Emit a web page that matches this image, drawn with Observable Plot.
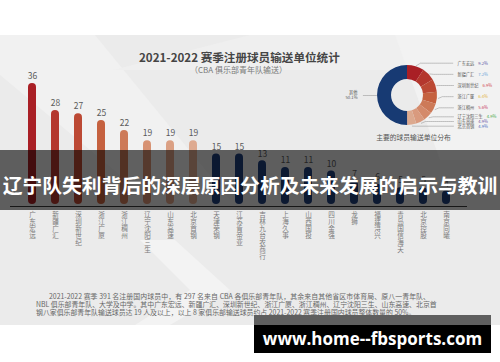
<!DOCTYPE html>
<html><head><meta charset="utf-8">
<script src="https://cdn.jsdelivr.net/npm/d3@7"></script>
<script src="https://cdn.jsdelivr.net/npm/@observablehq/plot@0.6"></script>
<style>
html,body{margin:0;padding:0;background:#fff;}
#root{position:relative;width:500px;height:362px;overflow:hidden;font-family:"Noto Sans CJK SC","Noto Sans",sans-serif;}
#panel{position:absolute;left:0;top:35px;width:500px;height:290px;background:#ebebeb;}
#deco{position:absolute;left:0;top:0;}
.abs{position:absolute;white-space:nowrap;}
#title{left:139px;top:49px;font-size:11.6px;font-weight:700;color:#454545;line-height:16px;}
#subtitle{left:190px;top:64px;font-size:8px;color:#7a7a7a;line-height:11px;}
#bars,#donut{position:absolute;left:0;top:0;}
#banner{position:absolute;left:0;top:150px;width:500px;height:60px;background:rgba(0,0,0,0.6);color:#fff;font-size:19.8px;font-weight:700;text-align:center;line-height:50px;padding-top:10px;box-sizing:border-box;white-space:nowrap;}
#footer{position:absolute;left:36px;top:292px;width:394px;font-size:6.9px;color:#666;line-height:8px;}
#footer div{white-space:nowrap;text-align:justify;text-align-last:justify;}
#footer div.last{text-align-last:left;}
#wm1{position:absolute;left:254px;top:315px;width:237px;height:10px;background:#5f5f5f;}
#wm2{position:absolute;left:254px;top:325px;width:237px;height:28px;background:#000;color:#fff;font-family:"Open Sans",sans-serif;font-weight:700;font-size:17px;line-height:28px;text-align:center;}
</style></head><body>
<div id="root">
  <div id="panel"></div>
  <svg id="deco" width="500" height="362">
    <polygon points="0,35 95,35 230,200 150,200 0,75" fill="#f1f1f1"/>
    <polygon points="113,70 500,70 500,35 250,35" fill="#efefef"/>
    <polygon points="395,35 500,35 500,160 440,160" fill="#f2f2f2"/>
    <polygon points="140,240 175,240 230,290 170,325 135,325 190,290" fill="#f3f3f3"/>
  </svg>
  <div id="title" class="abs">2021-2022 赛季注册球员输送单位统计</div>
  <div id="subtitle" class="abs">（CBA 俱乐部青年队输送）</div>
  <div id="bars"></div>
  <div id="donut"></div>
  <div id="banner">辽宁队失利背后的深层原因分析及未来发展的启示与教训</div>
  <div id="footer">
    <div style="text-indent:13px">2021-2022 赛季 391 名注册国内球员中，有 297 名来自 CBA 各俱乐部青年队，其余来自其他省区市体育局、原八一青年队、</div>
    <div>NBL 俱乐部青年队、大学及中学。其中广东宏远、新疆广汇、深圳新世纪、浙江广厦、浙江稠州、辽宁沈阳三生、山东高速、北京首</div>
    <div class="last">钢八家俱乐部青年队输送球员达 19 人及以上，以上 8 家俱乐部输送球员约占 2021-2022 赛季注册国内球员整体数量的 50%。</div>
  </div>
  <div id="wm1"></div>
  <div id="wm2">www.home--fbsports.com</div>
</div>
<script>
// ---- data ----
const teams = ["广东宏远","新疆广汇","深圳新世纪","浙江广厦","浙江稠州","辽宁沈阳三生","山东高速","北京首钢","天津荣钢","江苏肯帝亚","吉林九台农商行","上海久事","山西国投","四川金强","龙狮","福建浔兴","青岛国信海天","北京控股","南京同曦"];
const players = [36,28,27,25,22,19,19,19,15,15,13,11,11,10,7,6,5,5,4];
const barColors = ["#a91f25","#b4372d","#bc4934","#c5613f","#cd7a58","#d79273","#dba084","#deaa90",
  "#1f3f7c","#1f3f7c","#1f3f7c","#1f3f7c","#1f3f7c","#1f3f7c","#1f3f7c","#1f3f7c","#1f3f7c","#1f3f7c","#1f3f7c"];

const donutNames = ["广东宏远","新疆广汇","深圳新世纪","浙江广厦","浙江稠州","辽宁沈阳三生","山东高速","北京首钢","其他"];
const donutShares = [9.2,7.2,6.9,6.4,5.6,4.9,4.9,4.9,50.1];
const donutColors = ["#a91f25","#b4372d","#bc4934","#c5613f","#cd7a58","#d48a6b","#d99a7e","#dca98f","#173a73"];
const pctColors = ["#5a58a6","#6aa6d8","#d1484f","#e2b23a","#c83a5a","#4aa84a","#6a58a8","#4a6cc0"];

// ---- bar chart ----
const rows = teams.map((t,i)=>({team:t, value:players[i]}));
const barPlot = Plot.plot({
  width:500, height:362,
  marginLeft:10, marginRight:33, marginTop:83, marginBottom:158,
  x:{type:"band", domain:teams, padding:0.656, axis:null},
  y:{domain:[0,36], axis:null},
  color:{type:"ordinal", domain:teams, range:barColors},
  style:{background:"transparent", overflow:"visible", fontFamily:"'Noto Sans CJK SC',sans-serif"},
  marks:[
    Plot.barY(rows,{x:"team", y:"value", fill:"team", rx:4}),
    Plot.ruleY([0],{dy:2, stroke:"#3a3a3a", strokeWidth:1}),
    Plot.text(rows,{x:"team", y:"value", text:d=>String(d.value), dy:-7, fontSize:8.5, fill:"#5a5a5a"}),
    Plot.text(rows,{x:"team", y:0, text:d=>[...d.team].join("\n"), lineAnchor:"top", dy:8, fontSize:6.6, lineHeight:1.06, fill:"#7a7a7a"})
  ]
});
document.getElementById("bars").appendChild(barPlot);

// ---- donut ----
const cx = 407, cy = 95, r0 = 16, r1 = 30;
const drows = donutNames.map((n,i)=>({name:n, share:donutShares[i], color:donutColors[i]}));
const arcs = d3.pie().sort(null).value(d=>d.share)(drows);
const slicesMark = () => {
  const g = d3.create("svg:g").attr("transform",`translate(${cx},${cy})`);
  const arc = d3.arc().innerRadius(r0).outerRadius(r1);
  g.selectAll("path").data(arcs).join("path").attr("d",arc).attr("fill",d=>d.data.color);
  return g.node();
};
const labelY = i => i < 5 ? 62.7 + i*11.15 : 116.3 + (i-5)*4.7;
const lab = arcs.slice(0,8).map((a,i)=>{
  const m = (a.startAngle+a.endAngle)/2;
  const sx = cx + (r1+1)*Math.sin(m), sy = cy - (r1+1)*Math.cos(m);
  return {name:a.data.name, pct:a.data.share.toFixed(1)+"%", i, sx, sy, ly:labelY(i), pc:pctColors[i]};
});
const leader = lab.flatMap(d=>[
  {k:d.name, x:d.sx, y:d.sy},
  {k:d.name, x:d.sx+4, y:d.ly},
  {k:d.name, x:453, y:d.ly}
]);
const fs = 4.2;
const other = arcs[8];
const donutPlot = Plot.plot({
  width:500, height:362, margin:0,
  x:{type:"identity", axis:null}, y:{type:"identity", axis:null},
  style:{background:"transparent", overflow:"visible", fontFamily:"'Noto Sans CJK SC',sans-serif"},
  marks:[
    slicesMark,
    Plot.line(leader,{x:"x", y:"y", z:"k", stroke:"#8a8a8a", strokeWidth:0.5, strokeDasharray:"1.2,0.8"}),
    Plot.text(lab,{x:457, y:"ly", text:"name", textAnchor:"start", fontSize:fs, fill:"#555"}),
    Plot.text(lab,{x:d=>457 + [...d.name].length*fs + 4, y:"ly", text:"pct", textAnchor:"start", fontSize:fs, fill:"pc"}),
    Plot.line([{x:cx-r1-1,y:cy},{x:cx-r1-15,y:cy}],{x:"x", y:"y", stroke:"#8a8a8a", strokeWidth:0.5, strokeDasharray:"1.2,0.8"}),
    Plot.text([other],{x:cx-r1-20, y:cy-3.3, text:d=>d.data.name, textAnchor:"end", fontSize:fs, fill:"#555"}),
    Plot.text([other],{x:cx-r1-20, y:cy+2.5, text:d=>d.data.share.toFixed(1)+"%", textAnchor:"end", fontSize:fs, fill:"#555"}),
    Plot.text(["主要的球员输送单位分布"],{x:413, y:137, text:d=>d, fontSize:6.8, fill:"#555"})
  ]
});
document.getElementById("donut").appendChild(donutPlot);
</script>
</body></html>
